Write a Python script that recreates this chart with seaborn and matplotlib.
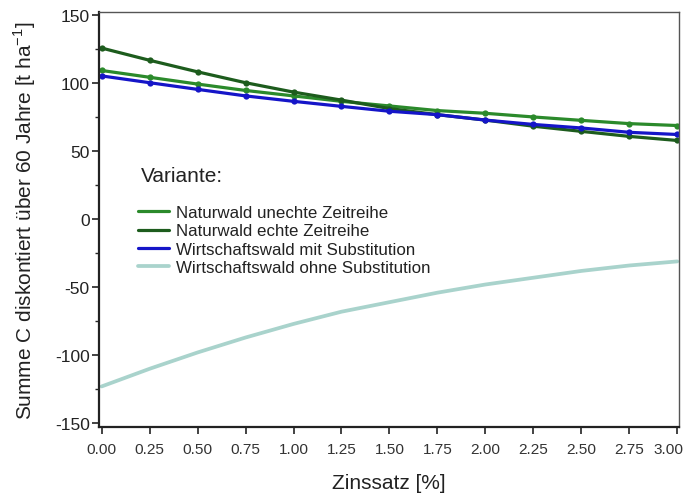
import numpy as np
import pandas as pd
import matplotlib
matplotlib.use("Agg")
import matplotlib.pyplot as plt
import matplotlib.transforms as mtransforms
import seaborn as sns
from matplotlib.ticker import MultipleLocator
from matplotlib.lines import Line2D

zinssatz = [0.00, 0.25, 0.50, 0.75, 1.00, 1.25, 1.50, 1.75, 2.00, 2.25, 2.50, 2.75, 3.00]
nw_unecht = [109.5, 104.5, 99.5, 94.8, 90.8, 86.8, 83.4, 80, 78, 75.3, 72.8, 70.4, 69]
nw_echt = [126, 117, 108.5, 100.5, 93.6, 87.7, 81.5, 77, 73, 68.5, 64.7, 61, 58]
ww_mit = [105.5, 100.5, 95.6, 90.8, 86.8, 83.1, 79.5, 77, 73, 69.8, 67.2, 64, 62.4]
ww_ohne = [-123, -110, -98, -87, -77, -68, -61, -54, -48, -43, -38, -34, -31]

varianten = ["Naturwald unechte Zeitreihe", "Naturwald echte Zeitreihe",
             "Wirtschaftswald mit Substitution", "Wirtschaftswald ohne Substitution"]
xticklabels = ["0.00", "0.25", "0.50", "0.75", "1.00", "1.25", "1.50", "1.75",
               "2.00", "2.25", "2.50", "2.75", "3.00"]

df = pd.DataFrame({
    "Zinssatz": zinssatz * 4,
    "Wert": nw_unecht + nw_echt + ww_mit + ww_ohne,
    "Variante": sum([[v] * len(zinssatz) for v in varianten], []),
})

colors = {varianten[0]: "#2b8a2b", varianten[1]: "#1d5c1d",
          varianten[2]: "#1515c8", varianten[3]: "#a9d3cc"}

sns.set_style("ticks")
plt.rcParams['font.family'] = ['Liberation Sans', 'DejaVu Sans']
plt.rcParams['axes.unicode_minus'] = False

fig = plt.figure(figsize=(6.86, 5.02), dpi=100)
ax = fig.add_axes([0.144, 0.147, 0.846, 0.827])

sns.lineplot(data=df[df.Variante != varianten[3]], x="Zinssatz", y="Wert",
             hue="Variante", hue_order=varianten[:3], palette=colors,
             linewidth=2.3, marker="o", markersize=4.5, markeredgewidth=0,
             ax=ax, legend=False)
sns.lineplot(data=df[df.Variante == varianten[3]], x="Zinssatz", y="Wert",
             color=colors[varianten[3]], linewidth=2.7, ax=ax, legend=False)

handles = [Line2D([0], [0], color=colors[v], lw=2.3 if i < 3 else 2.7) for i, v in enumerate(varianten)]
leg = ax.legend(handles, varianten, loc="upper left", bbox_to_anchor=(0.068, 0.535),
                frameon=False, fontsize=12.2, handlelength=1.8, handletextpad=0.45,
                labelspacing=0.2, borderpad=0, borderaxespad=0)
for t in leg.get_texts():
    t.set_color("#222222")
ax.text(0.072, 0.607, "Variante:", transform=ax.transAxes, fontsize=15,
        va="center", ha="left", color="#222222")

ax.set_xlim(-0.015, 3.01)
ax.set_ylim(-153, 152.5)
ax.set_xticks(zinssatz)
ax.set_xticklabels(xticklabels, fontsize=11.1)
ax.yaxis.set_major_locator(MultipleLocator(50))
ax.yaxis.set_minor_locator(MultipleLocator(25))
ax.tick_params(axis="y", labelsize=12.5, length=5, width=1.2, direction="out",
               colors="#222222", pad=1.5)
ax.tick_params(axis="y", which="minor", length=3, width=1.0)
ax.tick_params(axis="x", length=5, width=1.2, direction="out", colors="#222222", pad=6)
xl = ax.get_xticklabels()
for lbl in xl:
    lbl.set_color("#333333")
xl[-1].set_transform(xl[-1].get_transform() +
                     mtransforms.ScaledTranslation(-9 / 100, 0, fig.dpi_scale_trans))
for s in ["left", "bottom"]:
    ax.spines[s].set_linewidth(1.6)
    ax.spines[s].set_color("#222222")
for s in ["top", "right"]:
    ax.spines[s].set_visible(True)
    ax.spines[s].set_linewidth(1.0)
    ax.spines[s].set_color("#555555")

ax.set_xlabel("Zinssatz [%]", fontsize=15, labelpad=12, color="#222222")
ax.set_ylabel("Summe C diskontiert über 60 Jahre [t ha$^{\\mathregular{-1}}$]", fontsize=15,
              labelpad=12, color="#222222")

fig.savefig("out.png", dpi=100)
